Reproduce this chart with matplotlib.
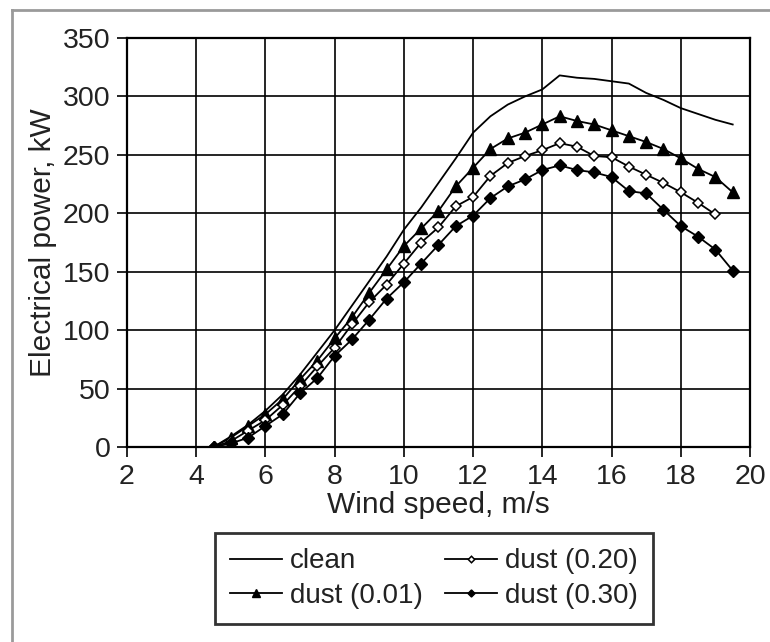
import matplotlib
matplotlib.use("Agg")
import matplotlib.pyplot as plt
from matplotlib.lines import Line2D
import numpy as np

plt.rcParams['font.family'] = ['Liberation Sans', 'DejaVu Sans']

wind = [4.5, 5.0, 5.5, 6.0, 6.5, 7.0, 7.5, 8.0, 8.5, 9.0, 9.5, 10.0, 10.5, 11.0, 11.5,
        12.0, 12.5, 13.0, 13.5, 14.0, 14.5, 15.0, 15.5, 16.0, 16.5, 17.0, 17.5, 18.0,
        18.5, 19.0, 19.5]

clean = [0, 9, 19, 31, 45, 62, 81, 100, 121, 142, 163, 186, 205, 226, 247,
         269, 283, 293, 300, 306, 318, 316, 315, 313, 311, 303, 297, 290,
         285, 280, 276]

dust_001 = [0, 8, 18, 28, 41, 58, 74, 93, 111, 132, 152, 172, 187, 202, 223,
            239, 255, 264, 269, 276, 283, 279, 276, 271, 266, 261, 255, 247,
            238, 231, 218]

wind_020 = wind[:-1]
dust_020 = [0, 5, 14, 23, 36, 52, 69, 85, 105, 124, 139, 157, 175, 188, 206,
            214, 232, 243, 249, 254, 260, 257, 249, 248, 240, 233, 226, 218,
            209, 199]

dust_030 = [0, 3, 8, 18, 28, 46, 59, 78, 92, 109, 127, 141, 157, 173, 189,
            198, 213, 223, 229, 237, 241, 237, 235, 231, 219, 217, 203, 189,
            180, 169, 151]

xticks = [2, 4, 6, 8, 10, 12, 14, 16, 18, 20]
yticks = [0, 50, 100, 150, 200, 250, 300, 350]

W, H = 770, 642
fig = plt.figure(figsize=(W / 100, H / 100), dpi=100)
ax = fig.add_axes([127 / W, 1 - 447 / H, 623 / W, 409 / H])

lw = 1.3
ax.plot(wind, clean, color='black', lw=lw, label='clean')
ax.plot(wind, dust_001, color='black', lw=lw, marker='^', markersize=8.5,
        markerfacecolor='black', markeredgecolor='black', label='dust (0.01)')
ax.plot(wind_020, dust_020, color='black', lw=lw, marker='D', markersize=5.5,
        markerfacecolor='white', markeredgecolor='black', markeredgewidth=1.1,
        label='dust (0.20)')
ax.plot(wind, dust_030, color='black', lw=lw, marker='D', markersize=6,
        markerfacecolor='black', markeredgecolor='black', label='dust (0.30)')

ax.set_xlim(2, 20)
ax.set_ylim(0, 350)
ax.set_xticks(xticks)
ax.set_yticks(yticks)
ax.set_xticklabels([str(v) for v in xticks])
ax.set_yticklabels([str(v) for v in yticks])
ax.grid(True, color='black', lw=1.2)
ax.set_axisbelow(True)
for s in ax.spines.values():
    s.set_linewidth(1.6)
    s.set_color('black')
ax.tick_params(direction='out', length=7, width=1.2, labelsize=20.5, pad=5,
               colors='black', labelcolor='#222222')

ax.set_xlabel('Wind speed, m/s', fontsize=21.5, color='#222222', labelpad=1)
ax.set_ylabel('Electrical power, kW', fontsize=21.5, color='#222222', labelpad=4)

handles, labels = ax.get_legend_handles_labels()
leg = fig.legend(handles, labels, ncol=2, loc='upper center',
                 bbox_to_anchor=(434 / W, 1 - 533 / H), bbox_transform=fig.transFigure,
                 fontsize=20, frameon=True, fancybox=False, edgecolor='black',
                 handlelength=1.85, handletextpad=0.3, columnspacing=0.8,
                 borderpad=0.55, labelspacing=0.3, markerscale=0.6,
                 borderaxespad=0)
leg.get_frame().set_linewidth(2.0)
for t in leg.get_texts():
    t.set_color('#222222')

# light gray outer frame (left and top edges)
fig.add_artist(Line2D([11.5 / W, 11.5 / W], [0, 1 - 10 / H], transform=fig.transFigure,
                      color='#9a9a9a', lw=2))
fig.add_artist(Line2D([11.5 / W, 1], [1 - 10 / H, 1 - 10 / H], transform=fig.transFigure,
                      color='#9a9a9a', lw=2))

fig.savefig('out.png', dpi=100)
